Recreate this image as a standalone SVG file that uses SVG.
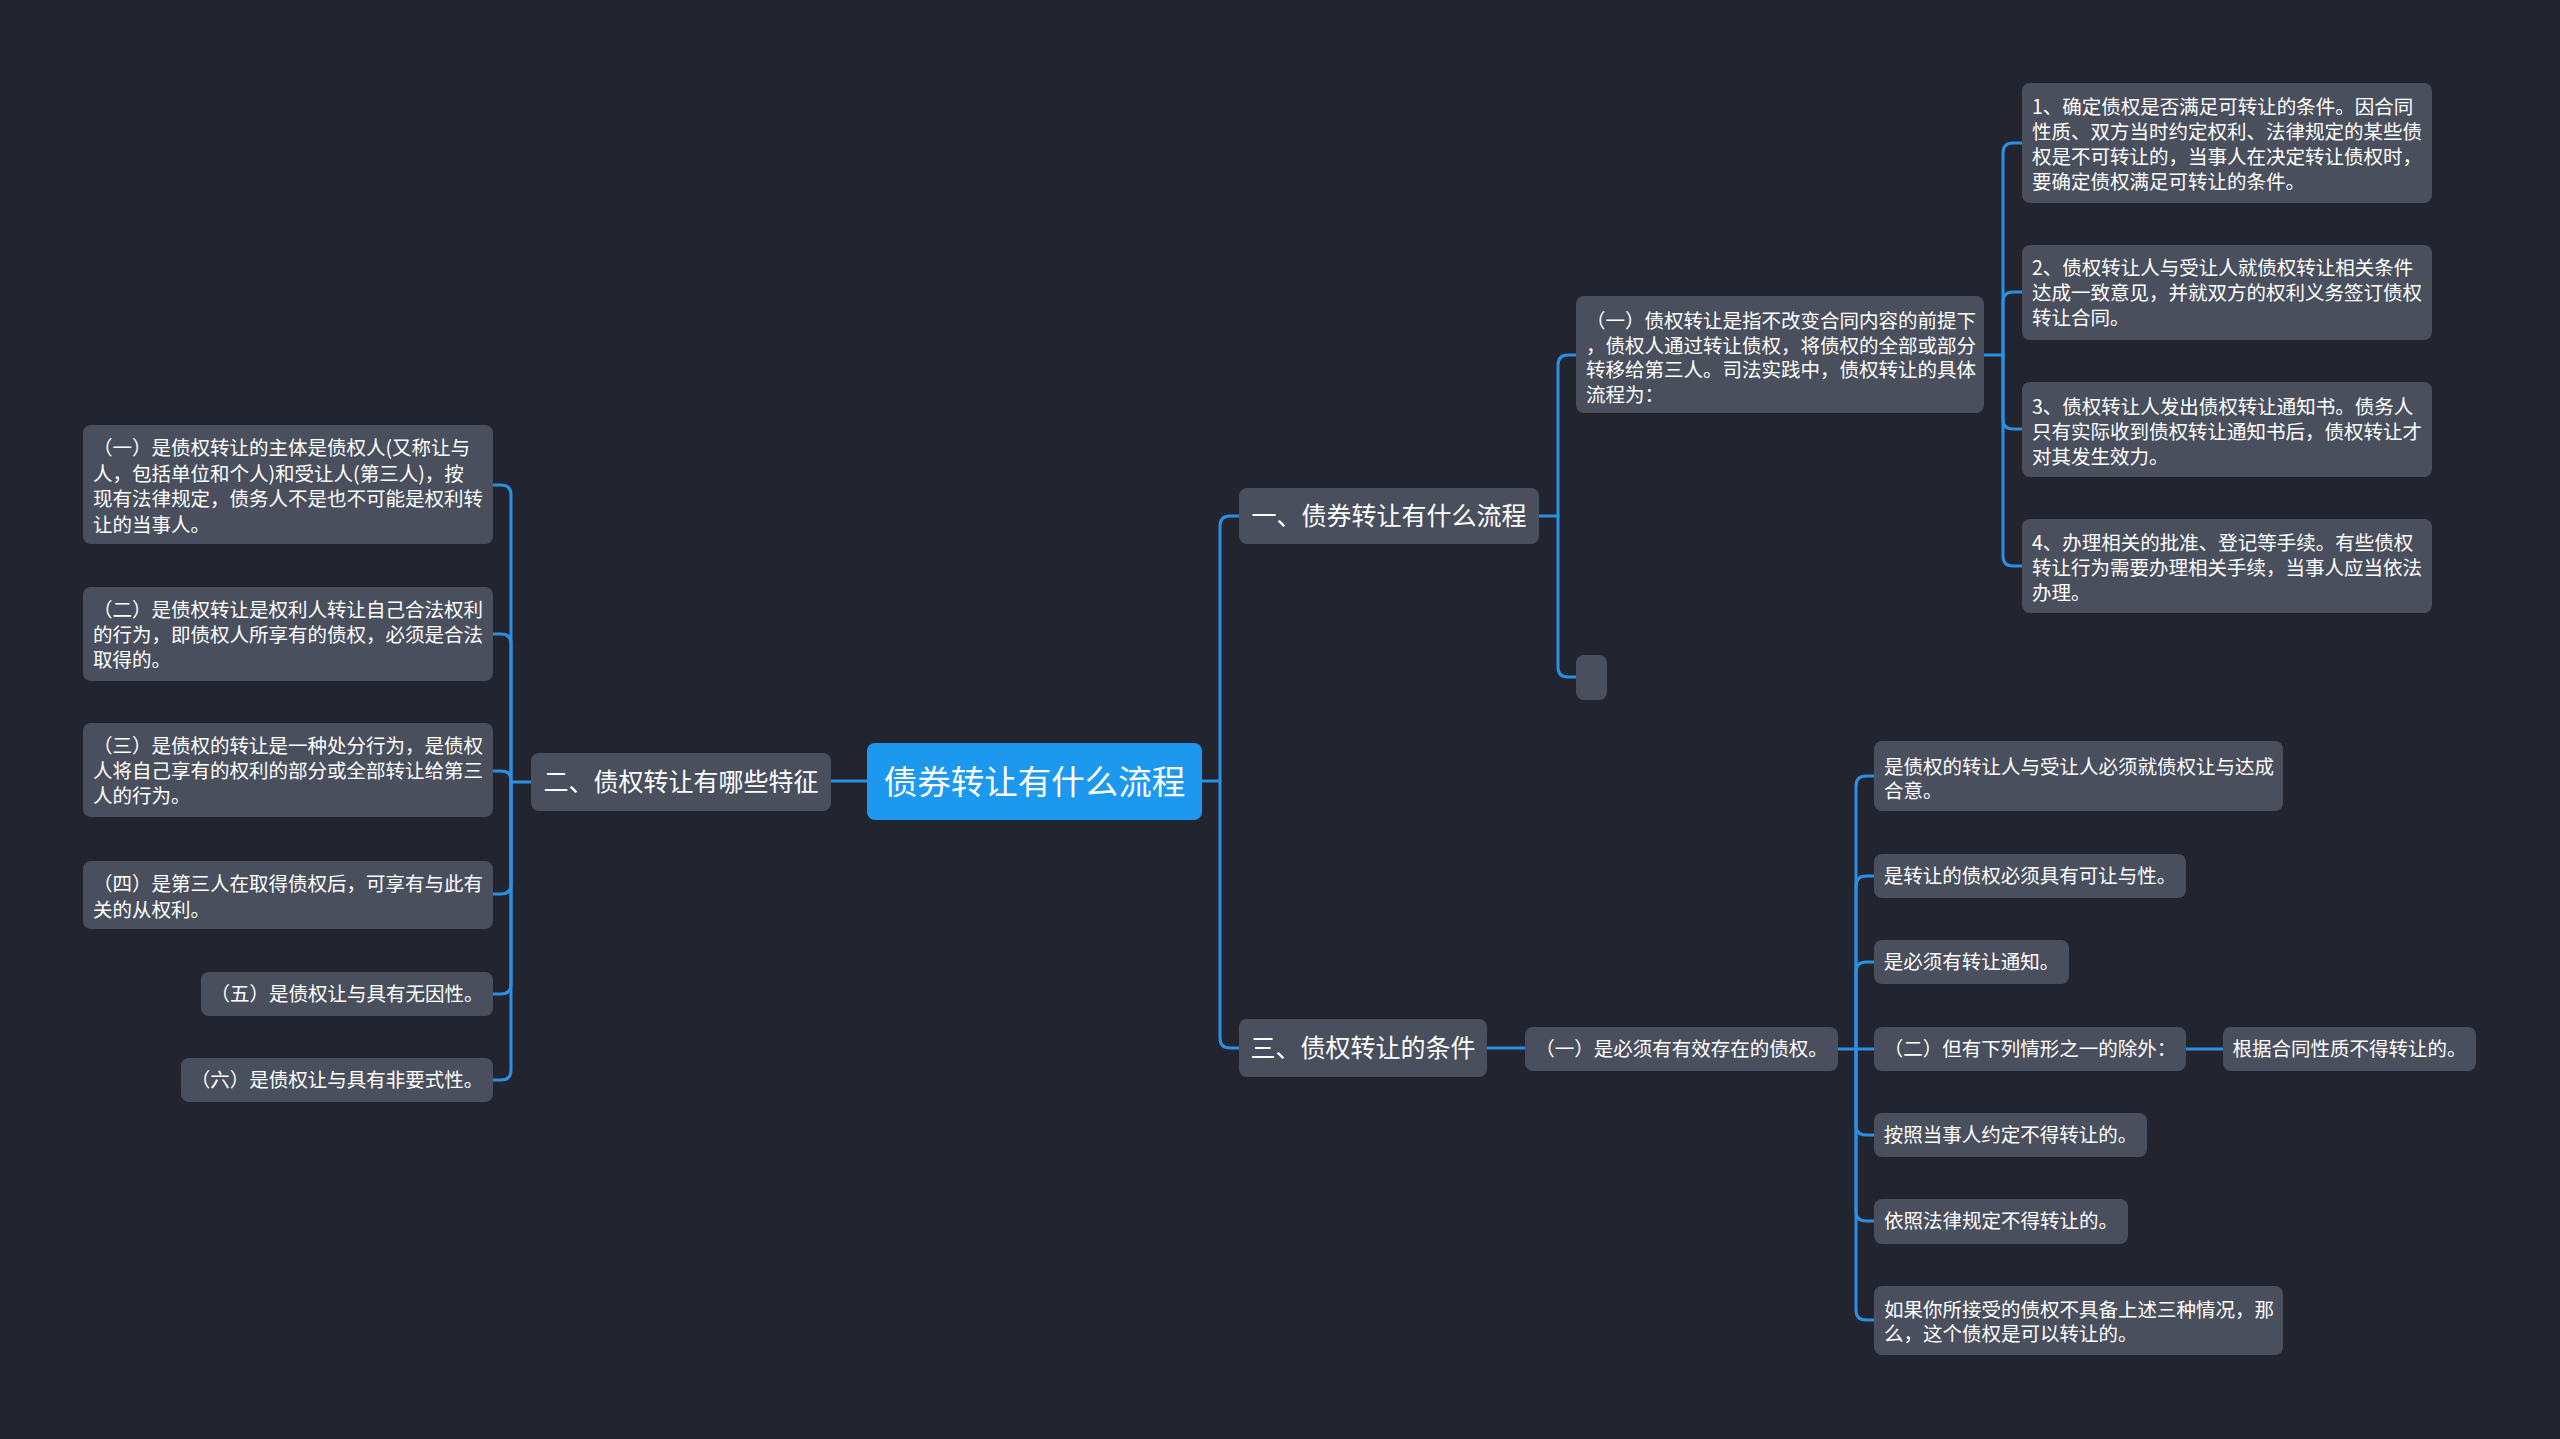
<svg xmlns="http://www.w3.org/2000/svg" width="2560" height="1439" viewBox="0 0 2560 1439">
<style>
.bg{fill:#22252f}
.n{fill:#4a4f5d}
.root{fill:#1d98ef}
.t{font-family:"Noto Sans CJK SC","Microsoft YaHei",sans-serif;fill:#ffffff;font-size:19.5px}
.tc{text-anchor:middle}
.l1{font-size:25px}
.r{font-size:33.5px}
.c{fill:none;stroke:#2b8fe2;stroke-width:3;stroke-linecap:round}
</style>
<rect class="bg" x="0" y="0" width="2560" height="1439"/>
<g id="connectors">
<path class="c" d="M1202,781 H1220 V526 Q1220,516 1230,516 H1239"/>
<path class="c" d="M1220,781 V1038 Q1220,1048 1230,1048 H1239"/>
<path class="c" d="M867,781 H831"/>
<path class="c" d="M531,782 H511 V495 Q511,485 501,485 H493"/>
<path class="c" d="M511,782 V644 Q511,634 501,634 H493"/>
<path class="c" d="M511,782 V780 Q511,771 501,771 H493"/>
<path class="c" d="M511,782 V884 Q511,894 501,894 H493"/>
<path class="c" d="M511,782 V984 Q511,994 501,994 H493"/>
<path class="c" d="M511,782 V1070 Q511,1080 501,1080 H493"/>
<path class="c" d="M1539,516 H1558 V365 Q1558,355 1568,355 H1576"/>
<path class="c" d="M1558,516 V667 Q1558,677 1568,677 H1576"/>
<path class="c" d="M1984,355 H2003 V153 Q2003,143 2013,143 H2022"/>
<path class="c" d="M2003,355 V302 Q2003,292 2013,292 H2022"/>
<path class="c" d="M2003,355 V419 Q2003,429 2013,429 H2022"/>
<path class="c" d="M2003,355 V556 Q2003,566 2013,566 H2022"/>
<path class="c" d="M1487,1048 H1525"/>
<path class="c" d="M1838,1049 H1856 V786 Q1856,776 1866,776 H1874"/>
<path class="c" d="M1856,1049 V886 Q1856,876 1866,876 H1874"/>
<path class="c" d="M1856,1049 V972 Q1856,962 1866,962 H1874"/>
<path class="c" d="M1856,1049 H1874"/>
<path class="c" d="M1856,1049 V1125 Q1856,1135 1866,1135 H1874"/>
<path class="c" d="M1856,1049 V1211 Q1856,1221 1866,1221 H1874"/>
<path class="c" d="M1856,1049 V1310 Q1856,1320 1866,1320 H1874"/>
<path class="c" d="M2186,1049 H2223"/>
</g>
<g id="root">
<rect class="root" x="867" y="743" width="335" height="77" rx="8"/>
<text class="t r tc" x="1034.5" y="794">债券转让有什么流程</text>
</g>
<g id="b1">
<rect class="n" x="1239" y="488" width="300" height="56" rx="8"/>
<text class="t l1 tc" x="1389" y="525">一、债券转让有什么流程</text>
</g>
<g id="b2">
<rect class="n" x="531" y="753" width="300" height="58" rx="8"/>
<text class="t l1 tc" x="681" y="791">二、债权转让有哪些特征</text>
</g>
<g id="b3">
<rect class="n" x="1239" y="1019" width="248" height="58" rx="8"/>
<text class="t l1 tc" x="1363" y="1057">三、债权转让的条件</text>
</g>
<g id="l1">
<rect class="n" x="83" y="425" width="410" height="119" rx="8"/>
<text class="t" x="93" y="455">（一）是债权转让的主体是债权人(又称让与</text>
<text class="t" x="93" y="480.5">人，包括单位和个人)和受让人(第三人)，按</text>
<text class="t" x="93" y="506">现有法律规定，债务人不是也不可能是权利转</text>
<text class="t" x="93" y="531.5">让的当事人。</text>
</g>
<g id="l2">
<rect class="n" x="83" y="587" width="410" height="94" rx="8"/>
<text class="t" x="93" y="617">（二）是债权转让是权利人转让自己合法权利</text>
<text class="t" x="93" y="642">的行为，即债权人所享有的债权，必须是合法</text>
<text class="t" x="93" y="667">取得的。</text>
</g>
<g id="l3">
<rect class="n" x="83" y="723" width="410" height="94" rx="8"/>
<text class="t" x="93" y="753">（三）是债权的转让是一种处分行为，是债权</text>
<text class="t" x="93" y="778">人将自己享有的权利的部分或全部转让给第三</text>
<text class="t" x="93" y="803">人的行为。</text>
</g>
<g id="l4">
<rect class="n" x="83" y="861" width="410" height="68" rx="8"/>
<text class="t" x="93" y="891">（四）是第三人在取得债权后，可享有与此有</text>
<text class="t" x="93" y="916.5">关的从权利。</text>
</g>
<g id="l5">
<rect class="n" x="201" y="972" width="292" height="44" rx="8"/>
<text class="t tc" x="347" y="1001">（五）是债权让与具有无因性。</text>
</g>
<g id="l6">
<rect class="n" x="181" y="1058" width="312" height="44" rx="8"/>
<text class="t tc" x="337" y="1087">（六）是债权让与具有非要式性。</text>
</g>
<g id="p0">
<rect class="n" x="1576" y="296" width="408" height="117" rx="8"/>
<text class="t" x="1586" y="328">（一）债权转让是指不改变合同内容的前提下</text>
<text class="t" x="1586" y="352.5">，债权人通过转让债权，将债权的全部或部分</text>
<text class="t" x="1586" y="377">转移给第三人。司法实践中，债权转让的具体</text>
<text class="t" x="1586" y="401.5">流程为：</text>
</g>
<g id="pe">
<rect class="n" x="1576" y="655" width="31" height="45" rx="8"/>
</g>
<g id="p1">
<rect class="n" x="2022" y="83" width="410" height="120" rx="8"/>
<text class="t" x="2032" y="114">1、确定债权是否满足可转让的条件。因合同</text>
<text class="t" x="2032" y="139">性质、双方当时约定权利、法律规定的某些债</text>
<text class="t" x="2032" y="164">权是不可转让的，当事人在决定转让债权时，</text>
<text class="t" x="2032" y="189">要确定债权满足可转让的条件。</text>
</g>
<g id="p2">
<rect class="n" x="2022" y="245" width="410" height="95" rx="8"/>
<text class="t" x="2032" y="275">2、债权转让人与受让人就债权转让相关条件</text>
<text class="t" x="2032" y="300">达成一致意见，并就双方的权利义务签订债权</text>
<text class="t" x="2032" y="325">转让合同。</text>
</g>
<g id="p3">
<rect class="n" x="2022" y="382" width="410" height="95" rx="8"/>
<text class="t" x="2032" y="414">3、债权转让人发出债权转让通知书。债务人</text>
<text class="t" x="2032" y="439">只有实际收到债权转让通知书后，债权转让才</text>
<text class="t" x="2032" y="464">对其发生效力。</text>
</g>
<g id="p4">
<rect class="n" x="2022" y="519" width="410" height="94" rx="8"/>
<text class="t" x="2032" y="550">4、办理相关的批准、登记等手续。有些债权</text>
<text class="t" x="2032" y="575">转让行为需要办理相关手续，当事人应当依法</text>
<text class="t" x="2032" y="600">办理。</text>
</g>
<g id="c0">
<rect class="n" x="1525" y="1027" width="313" height="44" rx="8"/>
<text class="t tc" x="1681.5" y="1056">（一）是必须有有效存在的债权。</text>
</g>
<g id="c1">
<rect class="n" x="1874" y="741" width="409" height="70" rx="8"/>
<text class="t" x="1884" y="774">是债权的转让人与受让人必须就债权让与达成</text>
<text class="t" x="1884" y="798">合意。</text>
</g>
<g id="c2">
<rect class="n" x="1874" y="854" width="312" height="44" rx="8"/>
<text class="t tc" x="2030" y="883">是转让的债权必须具有可让与性。</text>
</g>
<g id="c3">
<rect class="n" x="1874" y="940" width="195" height="44" rx="8"/>
<text class="t tc" x="1971.5" y="969">是必须有转让通知。</text>
</g>
<g id="c4">
<rect class="n" x="1874" y="1027" width="312" height="44" rx="8"/>
<text class="t tc" x="2030" y="1056">（二）但有下列情形之一的除外：</text>
</g>
<g id="c4a">
<rect class="n" x="2223" y="1027" width="253" height="44" rx="8"/>
<text class="t tc" x="2349.5" y="1056">根据合同性质不得转让的。</text>
</g>
<g id="c5">
<rect class="n" x="1874" y="1113" width="273" height="44" rx="8"/>
<text class="t tc" x="2010.5" y="1142">按照当事人约定不得转让的。</text>
</g>
<g id="c6">
<rect class="n" x="1874" y="1199" width="254" height="45" rx="8"/>
<text class="t tc" x="2001" y="1228">依照法律规定不得转让的。</text>
</g>
<g id="c7">
<rect class="n" x="1874" y="1286" width="409" height="69" rx="8"/>
<text class="t" x="1884" y="1317">如果你所接受的债权不具备上述三种情况，那</text>
<text class="t" x="1884" y="1341">么，这个债权是可以转让的。</text>
</g>
</svg>
